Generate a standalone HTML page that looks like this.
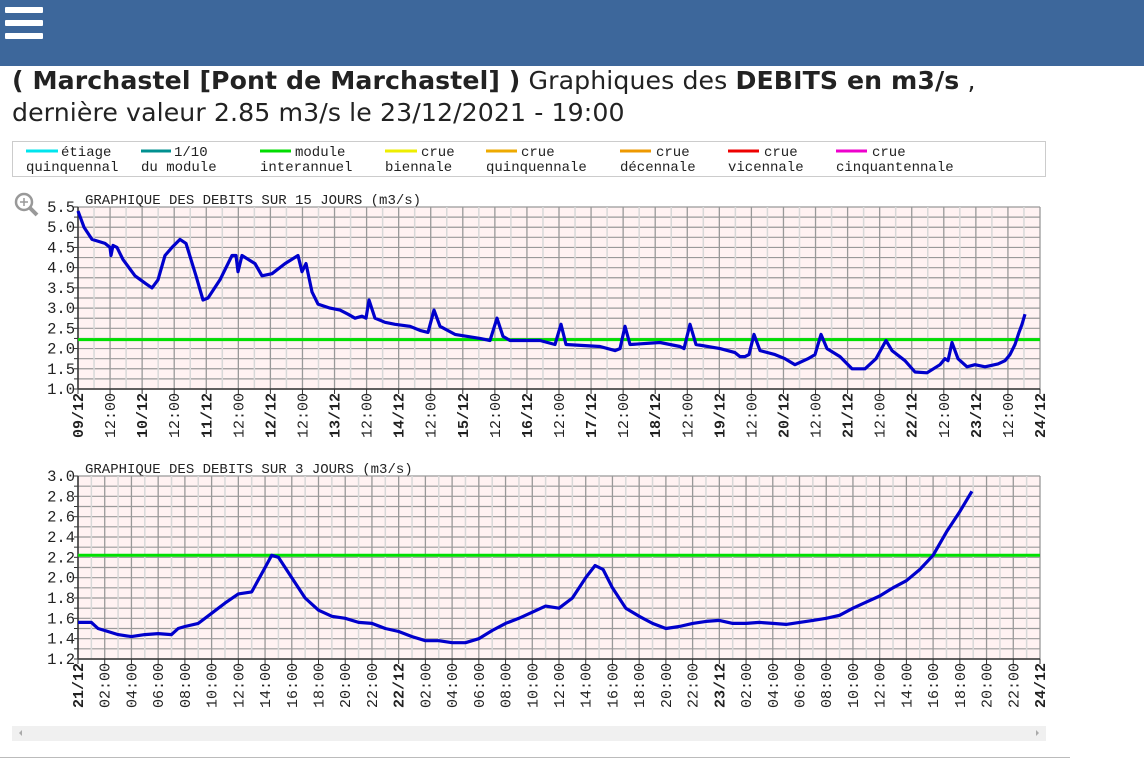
<!DOCTYPE html>
<html><head><meta charset="utf-8"><style>
body{margin:0;width:1144px;height:769px;background:#fff;overflow:hidden;position:relative;font-family:"Liberation Sans",sans-serif}
#top{position:absolute;left:0;top:0;width:1144px;height:66px;background:#3d679b}
.hb{position:absolute;left:5px;width:38px;height:6px;background:#fff;border-radius:1px}
#title{position:absolute;left:12px;top:65px;font-family:"DejaVu Sans",sans-serif;font-size:25.2px;line-height:32px;color:#222;letter-spacing:0.1px}
</style></head><body>
<div id="top"><div class="hb" style="top:7px"></div><div class="hb" style="top:20px"></div><div class="hb" style="top:33px"></div></div>
<div id="title"><b>( Marchastel [Pont de Marchastel] )</b> Graphiques des <b>DEBITS en m3/s</b> ,<br>dernière valeur 2.85 m3/s le 23/12/2021 - 19:00</div>
<svg id="s" width="1144" height="769" style="position:absolute;left:0;top:0" xmlns="http://www.w3.org/2000/svg" font-family="Liberation Mono, monospace">
<rect x="12.5" y="141.5" width="1033" height="35" fill="#fff" stroke="#ccc"/>
<g font-size="14" fill="#222">
<line x1="26" y1="151" x2="58" y2="151" stroke="#00e5ee" stroke-width="3"/><text x="61" y="156">étiage</text><text x="26" y="171">quinquennal</text>
<line x1="141" y1="151" x2="171" y2="151" stroke="#009090" stroke-width="3"/><text x="174" y="156">1/10</text><text x="141" y="171">du module</text>
<line x1="260" y1="151" x2="291" y2="151" stroke="#00dd00" stroke-width="3"/><text x="295" y="156">module</text><text x="260" y="171">interannuel</text>
<line x1="385" y1="151" x2="417" y2="151" stroke="#eeee00" stroke-width="3"/><text x="421" y="156">crue</text><text x="385" y="171">biennale</text>
<line x1="486" y1="151" x2="517" y2="151" stroke="#eeaa00" stroke-width="3"/><text x="521" y="156">crue</text><text x="486" y="171">quinquennale</text>
<line x1="620" y1="151" x2="651" y2="151" stroke="#ee9900" stroke-width="3"/><text x="656" y="156">crue</text><text x="620" y="171">décennale</text>
<line x1="728" y1="151" x2="759" y2="151" stroke="#ee0000" stroke-width="3"/><text x="764" y="156">crue</text><text x="728" y="171">vicennale</text>
<line x1="836" y1="151" x2="867" y2="151" stroke="#ee00cc" stroke-width="3"/><text x="872" y="156">crue</text><text x="836" y="171">cinquantennale</text>
</g>
<g stroke="#999" stroke-width="2.5" fill="none"><circle cx="24" cy="202" r="8"/><line x1="30" y1="208" x2="37" y2="215" stroke-width="4"/></g>
<g stroke="#999" stroke-width="1.5"><line x1="20" y1="202" x2="28" y2="202"/><line x1="24" y1="198" x2="24" y2="206"/></g>
<g id="c1"></g><g id="c2"></g>
<rect x="12" y="726" width="1034" height="15" fill="#f0f0f0"/>
<polygon points="19,733 22,730 22,736" fill="#aaa"/><polygon points="1039,733 1036,730 1036,736" fill="#aaa"/>
<line x1="0" y1="757.5" x2="1070" y2="757.5" stroke="#bbb"/>
</svg>
<script>
var NS="http://www.w3.org/2000/svg";
function el(p,t,a,txt){var e=document.createElementNS(NS,t);for(var k in a)e.setAttribute(k,a[k]);if(txt!=null)e.textContent=txt;p.appendChild(e);return e;}
function chart(g,y0,y1,vmin,vmax,step,lblStep,title,nx,xLbl,xDark,data,xs,x0){
 var L=78,R=1040;
 el(g,"rect",{x:L,y:y0,width:R-L,height:y1-y0,fill:"#fff2f2"});
 el(g,"text",{x:85,y:y0-3,"font-size":"14",fill:"#222"},title);
 var n=Math.round((vmax-vmin)/step);
 for(var i=0;i<=n;i++){var y=y1-(y1-y0)*i/n;el(g,"line",{x1:L,x2:R,y1:y,y2:y,stroke:"#999","stroke-width":1.2});
  el(g,"line",{x1:L-4,x2:L,y1:y,y2:y,stroke:"#333"});}
 var nl=Math.round((vmax-vmin)/lblStep);
 for(var i=0;i<=nl;i++){var y=y1-(y1-y0)*i/nl;el(g,"text",{x:L-3,y:y+5,"font-size":"15.5","text-anchor":"end",fill:"#222"},(vmin+i*lblStep).toFixed(1));}
 for(var i=0;i<=nx;i++){var x=L+(R-L)*i/nx;var dark=(i%xDark===0);
  el(g,"line",{x1:x,x2:x,y1:y0,y2:y1,stroke:dark?"#999":"#d8d8d8","stroke-width":dark?1.3:1.5});}
 for(var i=0;i<xLbl.length;i++){var o=xLbl[i];var x=L+(R-L)*o[0];
  el(g,"line",{x1:x,x2:x,y1:y1,y2:y1+5,stroke:"#333"});
  el(g,"text",{transform:"translate("+(x+5)+","+(y1+4)+") rotate(-90)","font-size":"15","text-anchor":"end","font-weight":o[2]?"bold":"normal",fill:"#222"},o[1]);}
 el(g,"line",{x1:L,x2:R,y1:y1,y2:y1,stroke:"#333","stroke-width":1.5});
 el(g,"line",{x1:L,x2:L,y1:y0,y2:y1,stroke:"#333","stroke-width":1.5});
 var gy=y1-(2.22-vmin)/(vmax-vmin)*(y1-y0);
 el(g,"line",{x1:L,x2:R,y1:gy,y2:gy,stroke:"#00e000","stroke-width":3});
 var pts=[];for(var i=0;i<data.length;i+=2){pts.push((x0+data[i]*xs).toFixed(1)+","+(y1-(data[i+1]-vmin)/(vmax-vmin)*(y1-y0)).toFixed(1));}
 el(g,"polyline",{points:pts.join(" "),fill:"none",stroke:"#0000cc","stroke-width":3.2,"stroke-linejoin":"round"});
}
var d1=[78,5.4,84,5.0,92,4.7,105,4.6,110,4.5,111,4.3,113,4.55,117,4.5,123,4.2,135,3.8,146,3.6,152,3.5,158,3.7,165,4.3,172,4.5,180,4.7,186,4.6,196,3.8,203,3.2,208,3.25,220,3.7,232,4.3,236,4.3,238,3.9,242,4.3,255,4.1,262,3.8,272,3.85,285,4.1,298,4.3,302,3.9,306,4.1,312,3.4,318,3.1,330,3.0,340,2.95,348,2.85,355,2.75,362,2.8,366,2.75,369,3.2,375,2.75,385,2.65,395,2.6,410,2.55,420,2.45,428,2.4,434,2.95,440,2.55,455,2.35,480,2.25,490,2.2,497,2.75,503,2.3,510,2.2,540,2.2,555,2.1,561,2.6,566,2.1,600,2.05,615,1.95,620,2.0,625,2.55,630,2.1,660,2.15,680,2.05,684,2.0,690,2.6,696,2.1,720,2.0,735,1.9,740,1.8,745,1.8,749,1.85,754,2.35,760,1.95,775,1.85,785,1.75,795,1.6,808,1.75,815,1.85,821,2.35,827,2.0,840,1.8,852,1.5,865,1.5,876,1.75,886,2.2,892,1.95,905,1.7,915,1.42,927,1.4,940,1.6,945,1.75,948,1.7,952,2.15,958,1.75,967,1.55,975,1.6,985,1.55,998,1.62,1005,1.7,1010,1.85,1015,2.1,1019,2.4,1022,2.6,1025,2.85];
var l1=[];for(var i=0;i<=30;i++){var day=9+i/2;l1.push([i/30,i%2?"12:00":(day<10?"0"+day:""+day)+"/12",i%2===0]);}
chart(document.getElementById("c1"),207,389,1.0,5.5,0.25,0.5,"GRAPHIQUE DES DEBITS SUR 15 JOURS (m3/s)",60,l1,2,d1,1,0);
var d2=[0,1.56,1,1.56,1.5,1.5,2,1.48,3,1.44,4,1.42,5,1.44,6,1.45,7,1.44,7.5,1.5,8,1.52,9,1.55,10,1.65,11,1.75,12,1.84,13,1.86,14,2.1,14.5,2.22,15,2.2,16,2.0,17,1.8,18,1.68,19,1.62,20,1.6,21,1.56,22,1.55,23,1.5,24,1.47,25,1.42,26,1.38,27,1.38,28,1.36,29,1.36,30,1.4,31,1.48,32,1.55,33,1.6,34,1.66,35,1.72,36,1.7,37,1.8,38,2.0,38.7,2.12,39.3,2.08,40,1.9,41,1.7,42,1.62,43,1.55,44,1.5,45,1.52,46,1.55,47,1.57,48,1.58,49,1.55,50,1.55,51,1.56,52,1.55,53,1.54,54,1.56,55,1.58,56,1.6,57,1.63,58,1.7,59,1.76,60,1.82,61,1.9,62,1.97,63,2.08,64,2.22,65,2.45,66,2.65,66.9,2.85];
var l2=[];for(var i=0;i<=36;i++){var h=(i*2)%24;var isDay=h===0;l2.push([i/36,isDay?(21+i/12)+"/12":(h<10?"0"+h:""+h)+":00",isDay]);}
chart(document.getElementById("c2"),476,659,1.2,3.0,0.1,0.2,"GRAPHIQUE DES DEBITS SUR 3 JOURS (m3/s)",72,l2,2,d2,962/72,78);
</script>
</body></html>
